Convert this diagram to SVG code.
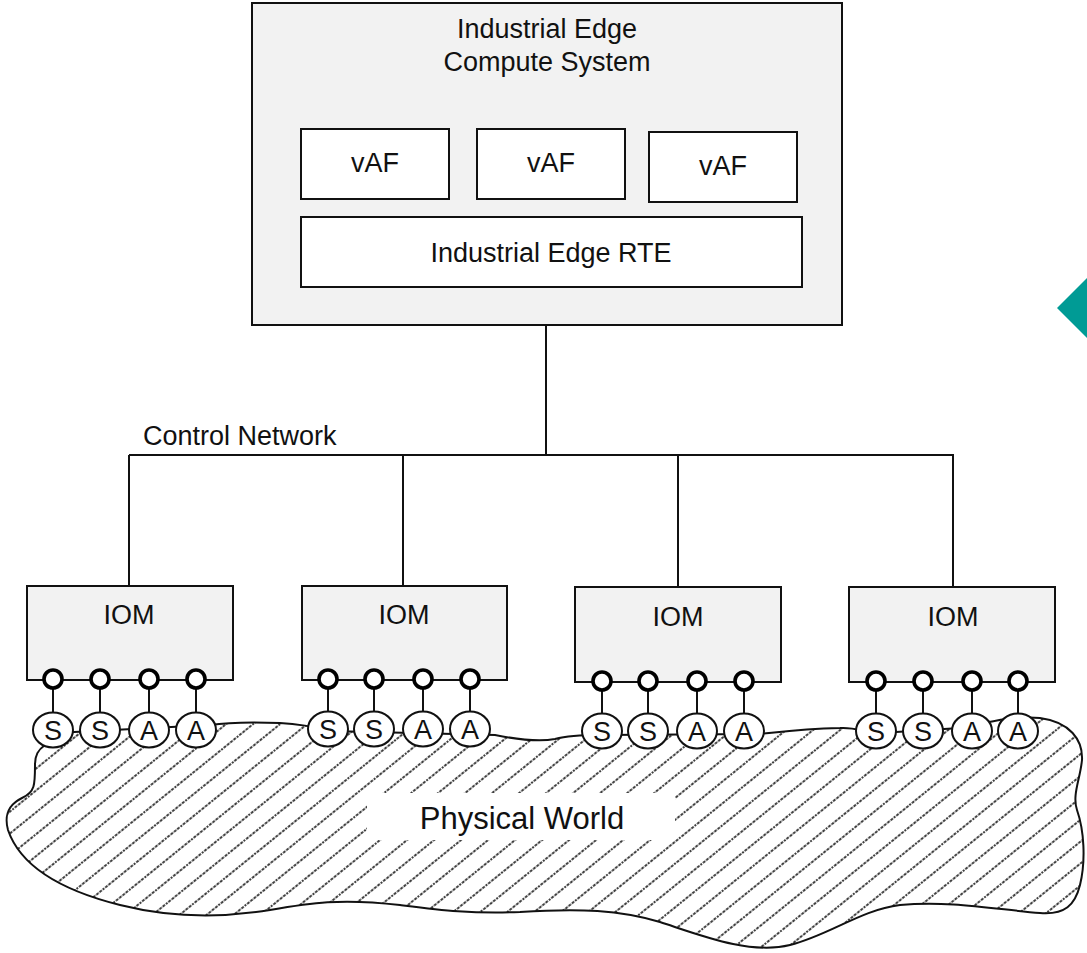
<svg xmlns="http://www.w3.org/2000/svg" width="1087" height="953" viewBox="0 0 1087 953">
<defs>
<style>
.box{fill:#f2f2f2;stroke:#111;stroke-width:2}
.wbox{fill:#fff;stroke:#111;stroke-width:2}
.t{font-family:"Liberation Sans",Arial,sans-serif;font-size:27px;fill:#111;text-anchor:middle}
.sa{font-family:"Liberation Sans",Arial,sans-serif;font-size:27px;fill:#111;text-anchor:middle}
.wire{fill:none;stroke:#111;stroke-width:2}
.port{fill:#fff;stroke:#000;stroke-width:3.6}
.dev{fill:#fff;stroke:#111;stroke-width:2}
</style>
<pattern id="hatch" width="20" height="17" patternUnits="userSpaceOnUse" patternTransform="rotate(-39)">
<rect width="20" height="17" fill="#fff"/>
<line x1="-1" y1="8" x2="21" y2="8" stroke="#000" stroke-width="1.5" stroke-dasharray="3 1.2"/>
</pattern>
</defs>
<rect width="1087" height="953" fill="#fff"/>

<g id="physical-world">
<path d="M45,745 C38,750 35,755 35,765 C35,785 35,792 22,798 C8,805 4,815 8,830 C20,865 60,890 120,905 C160,915 210,920 270,910 C310,903 340,898 400,905 C440,910 470,914 520,912 C580,908 620,910 660,922 C700,935 750,955 790,945 C830,935 860,910 900,905 C950,900 1000,910 1040,913 C1065,915 1075,905 1080,885 C1086,860 1084,830 1077,810 C1072,795 1080,780 1082,760 C1083,740 1070,722 1040,718 C1010,716 990,722 960,728 L880,733 C865,732 855,727 840,728 C800,729 780,732 760,734 L600,735 C585,735 570,735 555,739 C540,742 520,740 495,735 L330,731 C315,727 300,724 280,723 C255,722 230,722 210,725 L55,733 C50,738 48,742 45,745 Z" fill="url(#hatch)" stroke="#111" stroke-width="2"/>
<rect x="367" y="793" width="308" height="47" fill="#fff"/>
<text class="t" x="522" y="829" style="font-size:31px">Physical World</text>
</g>

<g id="connectors">
<path class="wire" d="M546,325 V455 M129,455 H954 M129,455 V586 M403,455 V586 M678,455 V587 M953,455 V587"/>
<path class="wire" d="M53,680 V713 M100,680 V713 M149,680 V713 M196,680 V713 M328,680 V712 M374,680 V712 M423,680 V712 M470,680 V712 M602,682 V714 M648,682 V714 M697,682 V714 M744,682 V714 M876,682 V714 M923,682 V714 M972,682 V714 M1018,682 V714"/>
</g>

<g id="edge-compute-system">
<rect class="box" x="252" y="3" width="590" height="322"/>
<text class="t" x="547" y="38">Industrial Edge</text>
<text class="t" x="547" y="71">Compute System</text>
</g>
<g id="vaf-1"><rect class="wbox" x="301" y="129" width="148" height="70"/><text class="t" x="375" y="172">vAF</text></g>
<g id="vaf-2"><rect class="wbox" x="477" y="129" width="148" height="70"/><text class="t" x="551" y="172">vAF</text></g>
<g id="vaf-3"><rect class="wbox" x="649" y="132" width="148" height="70"/><text class="t" x="723" y="175">vAF</text></g>
<g id="rte"><rect class="wbox" x="301" y="217" width="501" height="70"/><text class="t" x="551" y="262">Industrial Edge RTE</text></g>

<text id="control-network" x="143" y="445" style="font-family:'Liberation Sans',Arial,sans-serif;font-size:27px;fill:#111">Control Network</text>

<g id="iom-1">
<rect class="box" x="27" y="586" width="206" height="94"/>
<text class="t" x="129" y="624">IOM</text>
<circle class="port" cx="53" cy="679" r="9"/><circle class="port" cx="100" cy="679" r="9"/><circle class="port" cx="149" cy="679" r="9"/><circle class="port" cx="196" cy="679" r="9"/>
</g>
<g id="iom-2">
<rect class="box" x="302" y="586" width="205" height="94"/>
<text class="t" x="404" y="624">IOM</text>
<circle class="port" cx="328" cy="679" r="9"/><circle class="port" cx="374" cy="679" r="9"/><circle class="port" cx="423" cy="679" r="9"/><circle class="port" cx="470" cy="679" r="9"/>
</g>
<g id="iom-3">
<rect class="box" x="575" y="587" width="206" height="95"/>
<text class="t" x="678" y="626">IOM</text>
<circle class="port" cx="602" cy="681" r="9"/><circle class="port" cx="648" cy="681" r="9"/><circle class="port" cx="697" cy="681" r="9"/><circle class="port" cx="744" cy="681" r="9"/>
</g>
<g id="iom-4">
<rect class="box" x="849" y="587" width="206" height="95"/>
<text class="t" x="953" y="626">IOM</text>
<circle class="port" cx="876" cy="681" r="9"/><circle class="port" cx="923" cy="681" r="9"/><circle class="port" cx="972" cy="681" r="9"/><circle class="port" cx="1018" cy="681" r="9"/>
</g>

<g id="devices-1">
<ellipse class="dev" cx="53" cy="730" rx="20" ry="17.5"/><text class="sa" x="53" y="740">S</text>
<ellipse class="dev" cx="100" cy="730" rx="20" ry="17.5"/><text class="sa" x="100" y="740">S</text>
<ellipse class="dev" cx="149" cy="730" rx="20" ry="17.5"/><text class="sa" x="149" y="740">A</text>
<ellipse class="dev" cx="196" cy="730" rx="20" ry="17.5"/><text class="sa" x="196" y="740">A</text>
</g>
<g id="devices-2">
<ellipse class="dev" cx="328" cy="729" rx="20" ry="17.5"/><text class="sa" x="328" y="739">S</text>
<ellipse class="dev" cx="374" cy="729" rx="20" ry="17.5"/><text class="sa" x="374" y="739">S</text>
<ellipse class="dev" cx="423" cy="729" rx="20" ry="17.5"/><text class="sa" x="423" y="739">A</text>
<ellipse class="dev" cx="470" cy="729" rx="20" ry="17.5"/><text class="sa" x="470" y="739">A</text>
</g>
<g id="devices-3">
<ellipse class="dev" cx="602" cy="731" rx="20" ry="17.5"/><text class="sa" x="602" y="741">S</text>
<ellipse class="dev" cx="648" cy="731" rx="20" ry="17.5"/><text class="sa" x="648" y="741">S</text>
<ellipse class="dev" cx="697" cy="731" rx="20" ry="17.5"/><text class="sa" x="697" y="741">A</text>
<ellipse class="dev" cx="744" cy="731" rx="20" ry="17.5"/><text class="sa" x="744" y="741">A</text>
</g>
<g id="devices-4">
<ellipse class="dev" cx="876" cy="731" rx="20" ry="17.5"/><text class="sa" x="876" y="741">S</text>
<ellipse class="dev" cx="923" cy="731" rx="20" ry="17.5"/><text class="sa" x="923" y="741">S</text>
<ellipse class="dev" cx="972" cy="731" rx="20" ry="17.5"/><text class="sa" x="972" y="741">A</text>
<ellipse class="dev" cx="1018" cy="731" rx="20" ry="17.5"/><text class="sa" x="1018" y="741">A</text>
</g>

<polygon id="teal-marker" points="1057,308 1087,278 1117,308 1087,338" fill="#009b95"/>
</svg>
